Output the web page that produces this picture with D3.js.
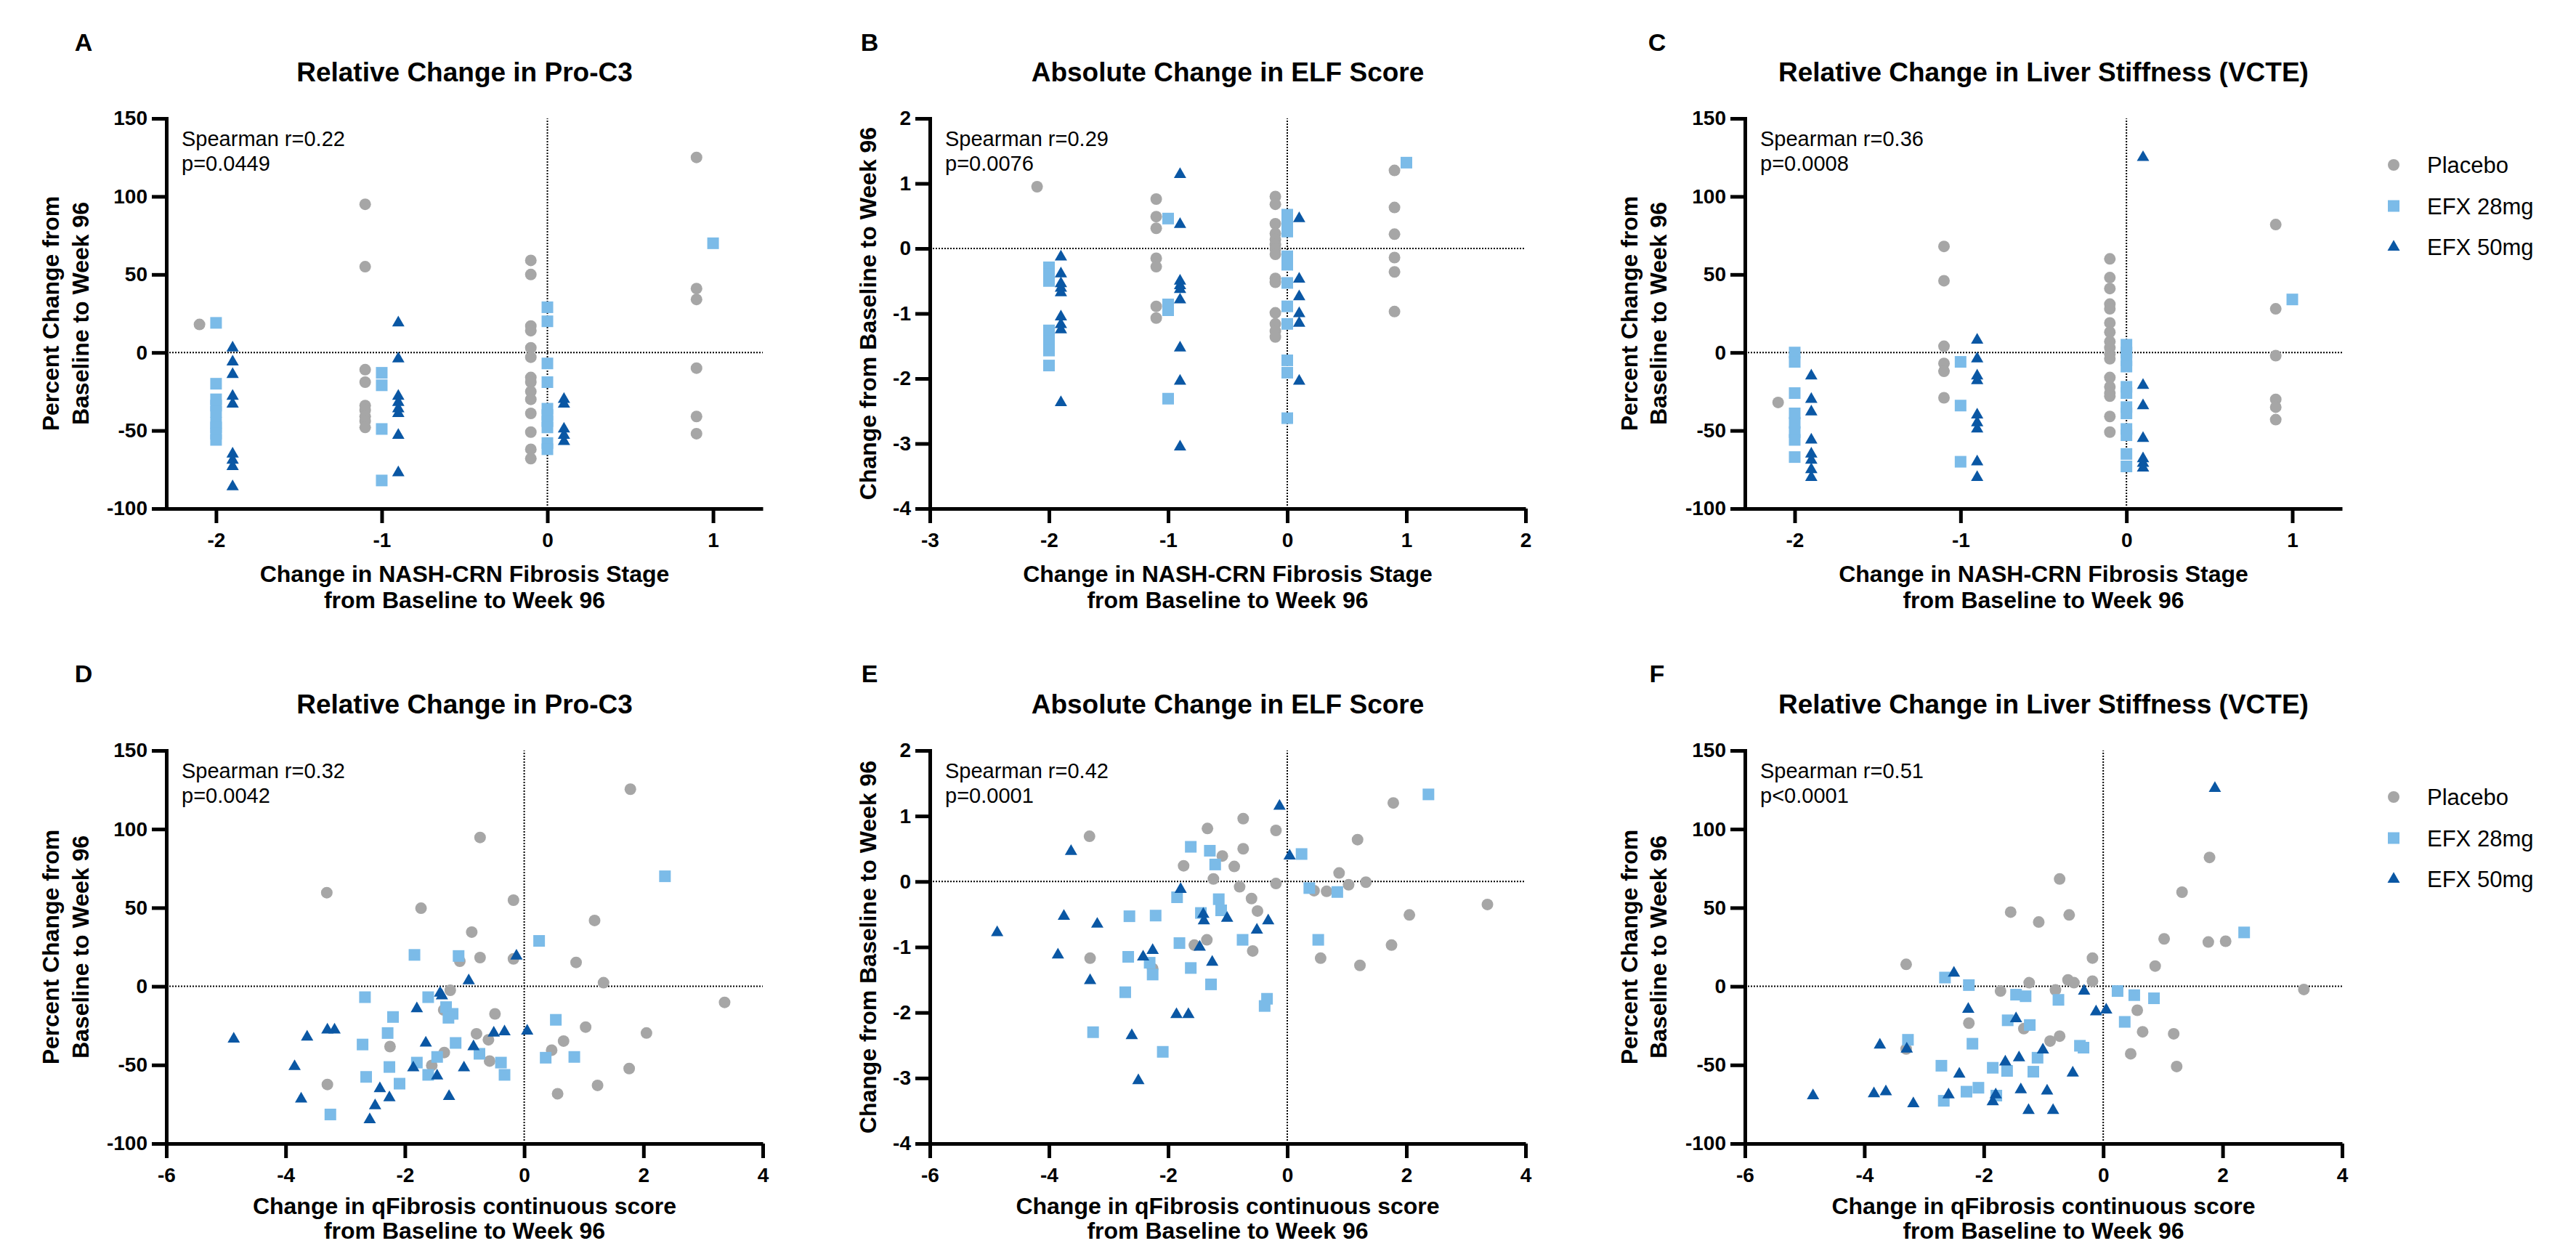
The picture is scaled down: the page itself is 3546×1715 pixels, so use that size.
<!DOCTYPE html>
<html>
<head>
<meta charset="utf-8">
<script src="https://cdn.jsdelivr.net/npm/d3@7"></script>
<style>
  html, body { margin: 0; padding: 0; background: #fff; }
  svg { display: block; }
  text { font-family: "Liberation Sans", Arial, Helvetica, sans-serif; fill: #000; }
</style>
</head>
<body>
<svg id="chart" width="3546" height="1715"></svg>
<script>
// ---------------- DATA ----------------
const groups = ["Placebo", "EFX 28mg", "EFX 50mg"];
const stageTicks = [-2, -1, 0, 1];
const stageTicksB = [-3, -2, -1, 0, 1, 2];
const qfibTicks = [-6, -4, -2, 0, 2, 4];
const pctTicks = [-100, -50, 0, 50, 100, 150];
const elfTicks = [-4, -3, -2, -1, 0, 1, 2];

const titles = ["Relative Change in Pro-C3", "Absolute Change in ELF Score", "Relative Change in Liver Stiffness (VCTE)"];
const panelLetters = ["A", "B", "C", "D", "E", "F"];
const statsLine1 = ["Spearman r=0.22", "Spearman r=0.29", "Spearman r=0.36", "Spearman r=0.32", "Spearman r=0.42", "Spearman r=0.51"];
const statsLine2 = ["p=0.0449", "p=0.0076", "p=0.0008", "p=0.0042", "p=0.0001", "p<0.0001"];
const yTitlePct = ["Percent Change from", "Baseline to Week 96"];
const yTitleElf = ["Change from Baseline to Week 96"];
const xTitleStage = ["Change in NASH-CRN Fibrosis Stage", "from Baseline to Week 96"];
const xTitleQ = ["Change in qFibrosis continuous score", "from Baseline to Week 96"];

// Panel A: Pro-C3 vs fibrosis stage change  [stage, value]
const A_placebo = [[-2,18],[-1,95],[-1,55],[-1,-11],[-1,-19],[-1,-34],[-1,-37],[-1,-41],[-1,-44],[-1,-48],
  [0,59],[0,50],[0,17],[0,14],[0,3],[0,-3],[0,-16],[0,-19],[0,-25],[0,-30],[0,-39],[0,-51],[0,-62],[0,-68],
  [1,125],[1,41],[1,34],[1,-10],[1,-41],[1,-52]];
const A_efx28 = [[-2,19],[-2,-20],[-2,-30],[-2,-34],[-2,-38],[-2,-45],[-2,-48],[-2,-52],[-2,-56],
  [-1,-13],[-1,-21],[-1,-49],[-1,-82],
  [0,29],[0,20],[0,-7],[0,-19],[0,-36],[0,-40],[0,-44],[0,-48],[0,-58],[0,-62],[1,70]];
const A_efx50 = [[-2,3],[-2,-6],[-2,-14],[-2,-28],[-2,-33],[-2,-65],[-2,-69],[-2,-73],[-2,-86],
  [-1,19],[-1,-4],[-1,-28],[-1,-32],[-1,-36],[-1,-39],[-1,-53],[-1,-77],
  [0,-30],[0,-33],[0,-49],[0,-53],[0,-57]];

// Panel B: ELF vs fibrosis stage change
const B_placebo = [[-2,0.95],[-1,0.76],[-1,0.49],[-1,0.31],[-1,-0.15],[-1,-0.28],[-1,-0.89],[-1,-1.07],
  [0,0.80],[0,0.68],[0,0.38],[0,0.23],[0,0.14],[0,0.06],[0,-0.01],[0,-0.09],[0,-0.46],[0,-0.52],[0,-0.99],[0,-1.16],[0,-1.27],[0,-1.36],
  [1,1.2],[1,0.63],[1,0.22],[1,-0.14],[1,-0.36],[1,-0.97]];
const B_efx28 = [[-2,-0.29],[-2,-0.40],[-2,-0.50],[-2,-1.26],[-2,-1.42],[-2,-1.57],[-2,-1.80],
  [-1,0.46],[-1,-0.86],[-1,-0.95],[-1,-2.31],
  [0,0.52],[0,0.40],[0,0.26],[0,-0.12],[0,-0.25],[0,-0.53],[0,-0.89],[0,-1.16],[0,-1.72],[0,-1.91],[0,-2.61],[1,1.32]];
const B_efx50 = [[-2,-0.13],[-2,-0.39],[-2,-0.54],[-2,-0.61],[-2,-0.68],[-2,-1.05],[-2,-1.17],[-2,-1.25],[-2,-2.37],
  [-1,1.14],[-1,0.37],[-1,-0.50],[-1,-0.57],[-1,-0.63],[-1,-0.79],[-1,-1.53],[-1,-2.04],[-1,-3.05],
  [0,0.46],[0,-0.47],[0,-0.74],[0,-1.0],[0,-1.15],[0,-2.04]];

// Panel C: liver stiffness vs fibrosis stage change
const C_placebo = [[-2,-32],[-1,68],[-1,46],[-1,4],[-1,-7],[-1,-12],[-1,-29],
  [0,60],[0,48],[0,41],[0,31],[0,28],[0,19],[0,13],[0,7],[0,3],[0,-1],[0,-4],[0,-16],[0,-22],[0,-26],[0,-28],[0,-41],[0,-51],
  [1,82],[1,28],[1,-2],[1,-30],[1,-35],[1,-43]];
const C_efx28 = [[-2,0],[-2,-6],[-2,-26],[-2,-39],[-2,-45],[-2,-51],[-2,-56],[-2,-67],
  [-1,-6],[-1,-34],[-1,-70],
  [0,5],[0,0],[0,-5],[0,-9],[0,-22],[0,-26],[0,-35],[0,-39],[0,-49],[0,-53],[0,-65],[0,-73],[1,34]];
const C_efx50 = [[-2,-15],[-2,-30],[-2,-38],[-2,-56],[-2,-65],[-2,-69],[-2,-75],[-2,-80],
  [-1,8],[-1,-4],[-1,-15],[-1,-18],[-1,-40],[-1,-45],[-1,-49],[-1,-70],[-1,-80],
  [0,125],[0,-21],[0,-34],[0,-55],[0,-68],[0,-71],[0,-74]];

// Panel D: Pro-C3 vs qFibrosis  [qFibrosis change, value]
const D_placebo = [[-3.31,59.6],[-1.73,49.7],[-0.74,94.7],[-0.18,54.8],[1.78,125.4],[1.18,41.9],[-0.88,34.5],[-0.74,18.3],
  [-1.08,16],[-0.18,17.5],[0.87,15.2],[1.33,2.3],[-1.24,-2.5],[3.36,-10.2],[-0.49,-17.5],[-1.35,-15],[1.03,-25.9],
  [2.05,-29.7],[-0.80,-30.2],[-0.60,-34],[0.66,-34.8],[-2.25,-38.3],[-1.34,-42.1],[0.46,-40.6],[-0.58,-47.5],
  [-1.55,-50.3],[1.76,-52.3],[-3.30,-62.4],[1.23,-63],[0.56,-68.3]];
const D_efx28 = [[2.36,70],[0.25,28.9],[-1.84,20],[-1.10,19.3],[-2.67,-6.9],[-1.61,-6.9],[-1.31,-13.2],[-1.20,-17.5],
  [-2.20,-19.5],[-1.27,-20],[0.53,-21.3],[-2.29,-29.7],[-2.71,-37],[-1.15,-36],[-0.75,-42.9],[-1.46,-44.9],
  [0.36,-45.4],[0.84,-44.9],[-1.80,-48.5],[-0.39,-48.5],[-2.26,-51.3],[-1.61,-56.3],[-2.65,-57.6],[-0.33,-56.3],
  [-2.09,-61.9],[-3.25,-81.5]];
const D_efx50 = [[-4.87,-33.5],[-3.64,-32.2],[-3.30,-27.7],[-3.18,-27.7],[-3.85,-51],[-3.74,-71.6],[-2.42,-65],
  [-2.50,-75.9],[-2.59,-84.8],[-2.26,-70.8],[-1.80,-14.2],[-1.41,-4.3],[-1.38,-6],[-0.93,3.6],[-0.13,19.3],
  [-1.65,-36],[-1.86,-51.8],[-1.46,-56.9],[-1.26,-70],[-1.01,-51.8],[-0.85,-38.3],[-0.51,-29.7],[-0.33,-28.9],[0.05,-28.4]];

// Panel E: ELF vs qFibrosis
const E_placebo = [[-3.32,0.69],[-1.34,0.81],[-0.74,0.96],[-0.19,0.78],[-0.74,0.50],[-1.09,0.39],[-1.74,0.24],[-0.89,0.23],
  [-1.24,0.04],[-0.80,-0.08],[-0.19,-0.03],[-0.60,-0.26],[-0.50,-0.45],[1.18,0.64],[1.78,1.20],[0.87,0.13],[0.45,-0.14],
  [0.66,-0.15],[1.03,-0.05],[1.32,-0.01],[3.36,-0.35],[2.05,-0.51],[1.75,-0.97],[0.56,-1.17],[1.22,-1.28],[-1.35,-0.89],
  [-1.56,-0.97],[-0.58,-1.06],[-3.31,-1.17],[-2.26,-1.33]];
const E_efx28 = [[2.37,1.33],[-1.62,0.53],[-1.30,0.47],[-1.21,0.26],[0.24,0.42],[0.37,-0.10],[0.84,-0.16],[-1.85,-0.24],
  [-1.15,-0.27],[-1.11,-0.44],[-1.45,-0.48],[-2.65,-0.53],[-2.21,-0.52],[-1.81,-0.94],[-0.75,-0.89],[0.52,-0.89],
  [-2.67,-1.15],[-2.31,-1.24],[-2.26,-1.42],[-1.62,-1.32],[-1.28,-1.57],[-2.72,-1.69],[-0.34,-1.79],[-0.38,-1.90],
  [-3.26,-2.30],[-2.09,-2.60]];
const E_efx50 = [[-0.13,1.15],[-3.63,0.46],[0.04,0.39],[-1.79,-0.12],[-3.75,-0.53],[-3.19,-0.65],[-4.87,-0.78],
  [-1.41,-0.50],[-1.40,-0.60],[-1.01,-0.56],[-0.32,-0.60],[-0.51,-0.74],[-1.47,-1.00],[-2.26,-1.05],[-2.42,-1.15],
  [-3.85,-1.12],[-1.26,-1.23],[-3.31,-1.51],[-1.86,-2.03],[-1.66,-2.03],[-2.61,-2.35],[-2.50,-3.04]];

// Panel F: liver stiffness vs qFibrosis
const F_placebo = [[-3.30,14],[-1.55,47.2],[-0.73,68.3],[-1.08,40.9],[-0.57,45.4],[1.78,82],[1.32,59.9],[1.02,30.2],
  [1.76,28.2],[2.05,28.7],[-0.18,18],[0.87,12.9],[-1.24,2.3],[-0.59,4.1],[-0.49,2.3],[-0.18,3.3],[-1.72,-3],[-0.80,-2.3],
  [3.36,-2],[0.57,-15.2],[-2.25,-23.4],[-1.33,-26.9],[0.66,-28.9],[1.18,-30.2],[-0.73,-31.7],[-0.89,-34.8],
  [-3.30,-39.8],[0.46,-42.9],[1.23,-51]];
const F_efx28 = [[2.36,34.3],[-2.65,5.6],[-2.25,0.8],[-1.46,-5.3],[-1.30,-6.3],[-0.75,-8.6],[0.24,-3],[0.52,-5.6],
  [0.85,-7.6],[0.36,-22.6],[-1.60,-21.6],[-1.23,-24.6],[-3.27,-34],[-2.19,-36.5],[-0.39,-37.8],[-0.33,-39],
  [-1.10,-45.4],[-2.71,-50.5],[-1.85,-51.8],[-1.61,-53.8],[-1.17,-54.3],[-2.09,-64.5],[-2.29,-67],[-1.79,-69.5],[-2.67,-72.8]];
const F_efx50 = [[1.87,125.9],[-2.50,8.4],[-0.32,-3],[-2.26,-14.5],[-1.46,-20.6],[-0.12,-16.2],[0.05,-15],[-3.74,-37.3],
  [-3.29,-39.8],[-1.01,-40.4],[-1.64,-48],[-1.41,-45.4],[-2.41,-55.8],[-0.51,-55.1],[-4.86,-69.5],[-3.84,-68.3],
  [-3.64,-67],[-2.59,-69],[-3.18,-74.6],[-1.80,-69],[-1.85,-73.4],[-1.38,-65.7],[-0.94,-66.5],[-1.25,-78.9],[-0.84,-78.9]];

// ---------------- LAYOUT / STYLE ----------------
const colors = ["#A6A6A6", "#7BBBE8", "#0A57A4"];
const jitter = [-0.1, 0, 0.1];          // horizontal offset of each group on the stage axis
const cols = [{x0: 229, x1: 1050, letterX: 115, yt: [-148.5, -107.5], yt1: -74.5},
              {x0: 1280, x1: 2100, letterX: 1197, yt: [-148.5, -107.5], yt1: -74.5},
              {x0: 2402, x1: 3224, letterX: 2281, yt: [-148.5, -108.5], yt1: -74.5}];
const rows = [{y0: 163, y1: 700, titleY: 112, letterY: 70, xt: [101, 137]},
              {y0: 1033, y1: 1574, titleY: 982, letterY: 939, xt: [97, 131]}];
const FONT = '"Liberation Sans", Arial, Helvetica, sans-serif';

const svg = d3.select("#chart");
svg.append("rect").attr("width", 3546).attr("height", 1715).attr("fill", "#fff");

const symCircle = d3.symbol().type(d3.symbolCircle).size(Math.PI * 8 * 8);
const symSquare = d3.symbol().type(d3.symbolSquare).size(16 * 16);
const symTri = d3.symbol().type(d3.symbolTriangle).size(Math.sqrt(3) / 4 * 17 * 17);
const symbols = [symCircle, symSquare, symTri];

const panels = [
  {r: 0, c: 0, data: [A_placebo, A_efx28, A_efx50], xd: [-2.3, 1.3], xt: stageTicks, yd: [-100, 150], yt: pctTicks, xTitle: xTitleStage, yTitle: yTitlePct, jit: true},
  {r: 0, c: 1, data: [B_placebo, B_efx28, B_efx50], xd: [-3, 2], xt: stageTicksB, yd: [-4, 2], yt: elfTicks, xTitle: xTitleStage, yTitle: yTitleElf, jit: true},
  {r: 0, c: 2, data: [C_placebo, C_efx28, C_efx50], xd: [-2.3, 1.3], xt: stageTicks, yd: [-100, 150], yt: pctTicks, xTitle: xTitleStage, yTitle: yTitlePct, jit: true, legend: true},
  {r: 1, c: 0, data: [D_placebo, D_efx28, D_efx50], xd: [-6, 4], xt: qfibTicks, yd: [-100, 150], yt: pctTicks, xTitle: xTitleQ, yTitle: yTitlePct, jit: false},
  {r: 1, c: 1, data: [E_placebo, E_efx28, E_efx50], xd: [-6, 4], xt: qfibTicks, yd: [-4, 2], yt: elfTicks, xTitle: xTitleQ, yTitle: yTitleElf, jit: false},
  {r: 1, c: 2, data: [F_placebo, F_efx28, F_efx50], xd: [-6, 4], xt: qfibTicks, yd: [-100, 150], yt: pctTicks, xTitle: xTitleQ, yTitle: yTitlePct, jit: false, legend: true}
];

panels.forEach((p, i) => {
  const col = cols[p.c], row = rows[p.r];
  const g = svg.append("g");
  const x = d3.scaleLinear().domain(p.xd).range([col.x0, col.x1]);
  const y = d3.scaleLinear().domain(p.yd).range([row.y1, row.y0]);

  // panel letter
  g.append("text").attr("x", col.letterX).attr("y", row.letterY).attr("text-anchor", "middle")
    .style("font-size", "34px").style("font-weight", "bold").text(panelLetters[i]);
  // title
  g.append("text").attr("x", (col.x0 + col.x1) / 2).attr("y", row.titleY).attr("text-anchor", "middle")
    .style("font-size", "37px").style("font-weight", "bold").text(titles[p.c]);

  // reference lines (dotted)
  g.append("line").attr("x1", x(p.xd[0])).attr("x2", x(p.xd[1])).attr("y1", y(0)).attr("y2", y(0))
    .attr("stroke", "#000").attr("stroke-width", 2).attr("stroke-dasharray", "2,2");
  g.append("line").attr("x1", x(0)).attr("x2", x(0)).attr("y1", y(p.yd[0])).attr("y2", y(p.yd[1]))
    .attr("stroke", "#000").attr("stroke-width", 2).attr("stroke-dasharray", "2,2");

  // points
  p.data.forEach((arr, gi) => {
    g.append("g").selectAll("path").data(arr).join("path")
      .attr("d", symbols[gi])
      .attr("transform", d => `translate(${x(d[0] + (p.jit ? jitter[gi] : 0))},${y(d[1])})`)
      .attr("fill", colors[gi]);
  });

  // axes
  const xAxis = d3.axisBottom(x).tickValues(p.xt).tickSize(20).tickSizeOuter(0).tickPadding(13).tickFormat(d => String(d));
  const yAxis = d3.axisLeft(y).tickValues(p.yt).tickSize(20).tickSizeOuter(0).tickPadding(6).tickFormat(d => String(d));
  const gx = g.append("g").attr("transform", `translate(0,${row.y1})`).call(xAxis);
  const gy = g.append("g").attr("transform", `translate(${col.x0},0)`).call(yAxis);
  [gx, gy].forEach(a => {
    a.select(".domain").attr("stroke", "#000").attr("stroke-width", 5);
    a.selectAll(".tick line").attr("stroke", "#000").attr("stroke-width", 5);
    a.selectAll(".tick text").style("font-family", FONT).style("font-size", "28px").style("font-weight", "bold").attr("fill", "#000");
  });
  gy.select(".domain").attr("stroke-linecap", "square");

  // stats text
  g.append("text").attr("x", col.x0 + 21).attr("y", row.y0 + 38).style("font-size", "29px").text(statsLine1[i]);
  g.append("text").attr("x", col.x0 + 21).attr("y", row.y0 + 72).style("font-size", "29px").text(statsLine2[i]);

  // x title
  p.xTitle.forEach((t, k) => {
    g.append("text").attr("x", (col.x0 + col.x1) / 2).attr("y", row.y1 + row.xt[k])
      .attr("text-anchor", "middle").style("font-size", "32px").style("font-weight", "bold").text(t);
  });
  // y title
  const cy = (row.y0 + row.y1) / 2;
  if (p.yTitle.length === 2) {
    p.yTitle.forEach((t, k) => {
      g.append("text").attr("transform", `translate(${col.x0 + col.yt[k]},${cy}) rotate(-90)`)
        .attr("text-anchor", "middle").style("font-size", "32px").style("font-weight", "bold").text(t);
    });
  } else {
    g.append("text").attr("transform", `translate(${col.x0 + col.yt1},${cy}) rotate(-90)`)
      .attr("text-anchor", "middle").style("font-size", "32px").style("font-weight", "bold").text(p.yTitle[0]);
  }

  // legend
  if (p.legend) {
    groups.forEach((name, gi) => {
      const ly = row.y0 + 64 + gi * 56.5;
      g.append("path").attr("d", symbols[gi]).attr("transform", `translate(3295,${ly})`).attr("fill", colors[gi]);
      g.append("text").attr("x", 3341).attr("y", ly + 11).style("font-size", "31px").text(name);
    });
  }
});
</script>
</body>
</html>
